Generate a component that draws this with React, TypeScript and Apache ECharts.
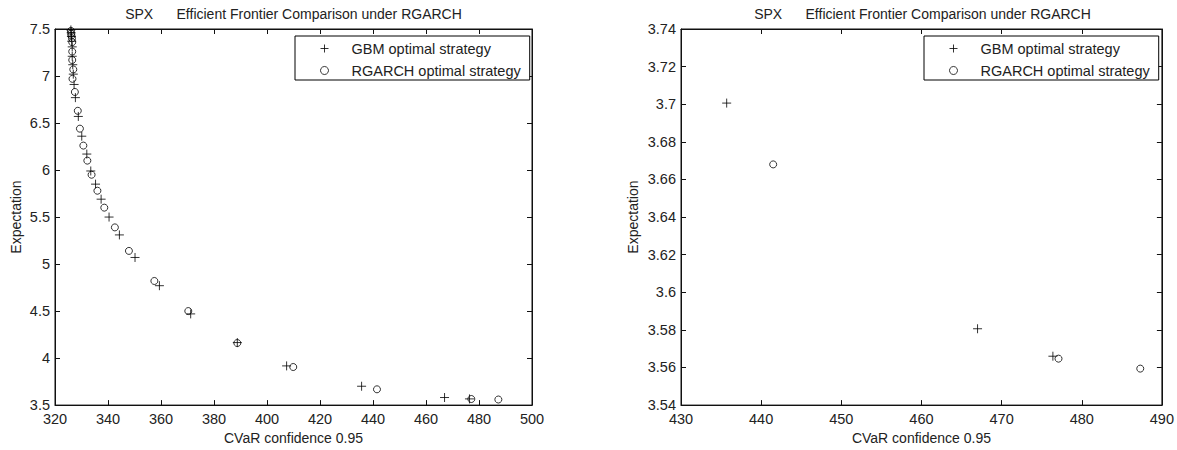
import React, { useEffect, useRef } from "react";
import * as echarts from "echarts";

const gbmX = [326.0, 326.1, 326.2, 326.3, 326.5, 326.5, 326.7, 326.9, 327.2, 327.7, 328.8, 330.1, 332.0, 333.5, 335.3, 337.4, 340.4, 344.3, 350.2, 359.4, 371.2, 388.8, 407.4, 435.7, 467.0, 476.4];
const gbmY = [7.49, 7.46, 7.42, 7.37, 7.31, 7.21, 7.12, 7.02, 6.91, 6.77, 6.57, 6.36, 6.17, 5.99, 5.85, 5.69, 5.50, 5.31, 5.07, 4.77, 4.47, 4.165, 3.917, 3.7006, 3.5806, 3.566];
const rgX = [326.0, 326.1, 326.2, 326.4, 326.5, 326.5, 326.5, 326.9, 326.6, 327.5, 328.6, 329.4, 330.7, 332.2, 333.8, 336.0, 338.6, 342.6, 347.9, 357.5, 370.3, 388.8, 409.9, 441.5, 477.1, 487.3];
const rgY = [7.48, 7.45, 7.43, 7.40, 7.36, 7.26, 7.17, 7.07, 6.97, 6.83, 6.63, 6.44, 6.26, 6.10, 5.95, 5.78, 5.60, 5.39, 5.14, 4.82, 4.50, 4.16, 3.905, 3.668, 3.5647, 3.5594];

const titleText = "SPX      Efficient Frontier Comparison under RGARCH";
const gbmName = "GBM optimal strategy";
const rgName = "RGARCH optimal strategy";
const xName = "CVaR confidence 0.95";
const yName = "Expectation";

const FONT = "'Liberation Sans', Arial, Helvetica, sans-serif";
const TXT = "#222";
const AX = "#111";
const PLUS = "path://M0,5L10,5M5,0L5,10";

function pairs(xs: number[], ys: number[], minX: number) {
  const out: number[][] = [];
  xs.forEach((x, i) => {
    if (x >= minX) out.push([x, ys[i]]);
  });
  return out;
}

export default function App() {
  const ref = useRef<HTMLDivElement>(null);
  useEffect(() => {
    if (!ref.current) return;
    const chart = echarts.init(ref.current, undefined, { renderer: "svg" });
    const grids = [
      { left: 55, top: 29, width: 477, height: 377 },
      { left: 681, top: 29, width: 483, height: 377 },
    ];
    const xr = [
      { min: 320, max: 500, interval: 20, gap: 24 },
      { min: 430, max: 490, interval: 10, gap: 24 },
    ];
    const yr = [
      { min: 3.5, max: 7.5, interval: 0.5, gap: 32 },
      { min: 3.54, max: 3.74, interval: 0.02, gap: 41 },
    ];
    const xAxis: any[] = [];
    const yAxis: any[] = [];
    [0, 1].forEach((g) => {
      const common = {
        gridIndex: g,
        axisLine: { show: true, onZero: false, lineStyle: { color: AX, width: 1 } },
        axisTick: { show: true, inside: true, length: 5, lineStyle: { color: AX } },
        splitLine: { show: false },
      };
      xAxis.push({
        ...common,
        type: "value",
        position: "bottom",
        min: xr[g].min,
        max: xr[g].max,
        interval: xr[g].interval,
        name: xName,
        nameLocation: "middle",
        nameGap: xr[g].gap,
        nameTextStyle: { fontFamily: FONT, fontSize: 14, color: TXT },
        axisLabel: { fontFamily: FONT, fontSize: 14.5, color: TXT, margin: 6 },
      });
      xAxis.push({
        ...common,
        type: "value",
        position: "top",
        min: xr[g].min,
        max: xr[g].max,
        interval: xr[g].interval,
        axisLabel: { show: false },
      });
      yAxis.push({
        ...common,
        type: "value",
        position: "left",
        min: yr[g].min,
        max: yr[g].max,
        interval: yr[g].interval,
        name: yName,
        nameLocation: "middle",
        nameGap: yr[g].gap,
        nameTextStyle: { fontFamily: FONT, fontSize: 14, color: TXT },
        axisLabel: { fontFamily: FONT, fontSize: 14.5, color: TXT, margin: 5 },
      });
      yAxis.push({
        ...common,
        type: "value",
        position: "right",
        min: yr[g].min,
        max: yr[g].max,
        interval: yr[g].interval,
        axisLabel: { show: false },
      });
    });
    const markStyle = { color: "rgba(0,0,0,0)", borderColor: "#000", borderWidth: 1 };
    const minXs = [320, 430];
    const series: any[] = [];
    [0, 1].forEach((g) => {
      series.push({
        type: "scatter",
        name: gbmName,
        xAxisIndex: g * 2,
        yAxisIndex: g * 2,
        symbol: PLUS,
        symbolSize: 9,
        itemStyle: markStyle,
        clip: true,
        data: pairs(gbmX, gbmY, minXs[g]),
      });
      series.push({
        type: "scatter",
        name: rgName,
        xAxisIndex: g * 2,
        yAxisIndex: g * 2,
        symbol: "circle",
        symbolSize: 7,
        itemStyle: markStyle,
        clip: true,
        data: pairs(rgX, rgY, minXs[g]),
      });
    });
    const legendBase = {
      orient: "vertical",
      top: 36,
      padding: [5, 9, 2, 25],
      itemGap: 7,
      itemWidth: 44,
      itemHeight: 8,
      borderColor: "#000",
      borderWidth: 1,
      borderRadius: 0,
      backgroundColor: "#fff",
      selectedMode: false,
      itemStyle: { color: "rgba(0,0,0,0)", borderColor: "#000", borderWidth: 1 },
      textStyle: { fontFamily: FONT, fontSize: 14.5, color: TXT, lineHeight: 15 },
      data: [gbmName, rgName],
    };
    chart.setOption({
      animation: false,
      backgroundColor: "#fff",
      grid: grids.map((g) => ({ ...g, show: true, borderColor: AX, borderWidth: 1, backgroundColor: "#fff" })),
      xAxis,
      yAxis,
      legend: [
        { ...legendBase, left: 295 },
        { ...legendBase, left: 924 },
      ],
      graphic: [0, 1].map((g) => ({
        type: "text",
        x: grids[g].left + grids[g].width / 2,
        y: 14,
        style: {
          text: titleText,
          textAlign: "center",
          textVerticalAlign: "middle",
          fontFamily: FONT,
          fontSize: 14,
          fill: TXT,
        },
      })),
      series,
    });
    return () => chart.dispose();
  }, []);
  return (
    <div
      ref={ref}
      style={{ position: "absolute", left: 0, top: 0, width: 1177, height: 450 }}
    />
  );
}
